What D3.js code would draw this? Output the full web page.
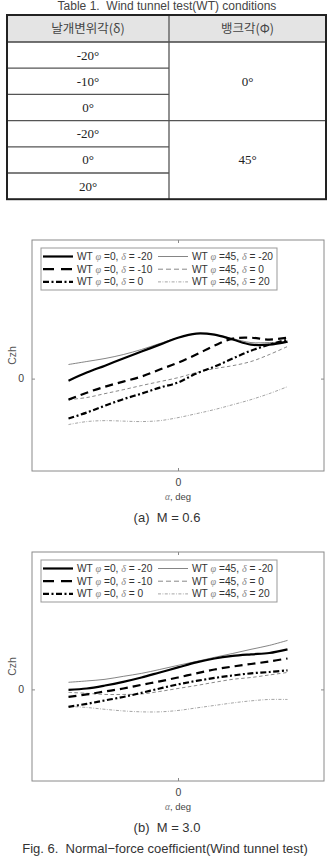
<!DOCTYPE html>
<html>
<head>
<meta charset="utf-8">
<script src="https://cdn.jsdelivr.net/npm/d3@7"></script>
<style>
  body { margin: 0; background: #fff; }
  svg { display: block; }
  text { white-space: pre; }
</style>
</head>
<body>
<div id="chart"></div>
<script>
(function() {

  // table rows
  var deflectAngles = ["-20°", "-10°", "0°", "-20°", "0°", "20°"];
  var bankGroups = [{label: "0°", rows: 3}, {label: "45°", rows: 3}];
  var tableHeaders = ["날개변위각(δ)", "뱅크각(Φ)"];

  // angle of attack samples (deg)
  var alpha = [-15, -12.5, -10, -7.5, -5, -2.5, 0, 2.5, 5, 7.5, 10, 12.5, 15];
  var xTicks = [0];
  var yTicks = [0];

  // series names for the legend
  var seriesNames = [
    ["WT ", "φ", " =0, ", "δ", " = -20"],
    ["WT ", "φ", " =0, ", "δ", " = -10"],
    ["WT ", "φ", " =0, ", "δ", " = 0"],
    ["WT ", "φ", " =45, ", "δ", " = -20"],
    ["WT ", "φ", " =45, ", "δ", " = 0"],
    ["WT ", "φ", " =45, ", "δ", " = 20"]
  ];

  // M = 0.6
  var m06_p0_dm20 = [-0.09, 0.26, 0.56, 0.87, 1.17, 1.47, 1.77, 1.95, 1.90, 1.69, 1.47, 1.47, 1.60];
  var m06_p0_dm10 = [-0.91, -0.61, -0.35, -0.13, 0.09, 0.39, 0.69, 1.04, 1.43, 1.73, 1.77, 1.69, 1.77];
  var m06_p0_d0   = [-1.73, -1.47, -1.17, -0.89, -0.65, -0.39, -0.17, 0.22, 0.52, 0.87, 1.21, 1.47, 1.69];
  var m06_p45_dm20 = [0.61, 0.74, 0.87, 1.04, 1.26, 1.52, 1.77, 1.95, 1.90, 1.73, 1.56, 1.56, 1.56];
  var m06_p45_d0   = [-0.91, -0.82, -0.65, -0.48, -0.30, -0.13, 0.04, 0.26, 0.43, 0.56, 0.74, 1.04, 1.39];
  var m06_p45_d20  = [-1.99, -1.86, -1.82, -1.84, -1.86, -1.82, -1.69, -1.52, -1.34, -1.13, -0.91, -0.65, -0.35];

  // M = 3.0
  var m30_p0_dm20 = [-0.02, 0.04, 0.17, 0.33, 0.52, 0.74, 0.96, 1.18, 1.35, 1.46, 1.53, 1.59, 1.75];
  var m30_p0_dm10 = [-0.33, -0.22, -0.09, 0.04, 0.20, 0.35, 0.52, 0.70, 0.87, 1.00, 1.11, 1.22, 1.35];
  var m30_p0_d0   = [-0.76, -0.63, -0.48, -0.33, -0.15, 0.04, 0.22, 0.37, 0.50, 0.61, 0.70, 0.76, 0.83];
  var m30_p45_dm20 = [0.31, 0.37, 0.44, 0.57, 0.70, 0.87, 1.05, 1.22, 1.40, 1.57, 1.75, 1.92, 2.14];
  var m30_p45_d0   = [-0.13, -0.17, -0.22, -0.22, -0.20, -0.09, 0.04, 0.17, 0.31, 0.44, 0.52, 0.63, 0.74];
  var m30_p45_d20  = [-0.74, -0.79, -0.87, -0.94, -0.98, -0.98, -0.92, -0.81, -0.70, -0.59, -0.50, -0.44, -0.44];

  var width = 329, height = 857;

  // line styles, same order as seriesNames
  var styles = [
    {w: 2.2, c: "#000", dash: null, legDash: null},
    {w: 2.2, c: "#000", dash: "8,5", legDash: "11,7"},
    {w: 2.2, c: "#000", dash: "6,2.5,2,2.5", legDash: "6,2.5,2,2.5"},
    {w: 0.8, c: "#666", dash: null, legDash: null},
    {w: 0.7, c: "#555", dash: "3.5,2.5", legDash: "5,3"},
    {w: 0.6, c: "#666", dash: "3,1.5,0.8,1.5", legDash: "3,1.5,0.8,1.5"}
  ];

  var svg = d3.select("#chart")
    .append("svg")
    .attr("width", width)
    .attr("height", height);

  // ---------- table ----------
  function drawTable() {
    var tx0 = 7, tx1 = 326, tmid = 169;
    var top = 15, headH = 27, rowH = 26.2;

    svg.append("text")
      .attr("x", 167).attr("y", 9.5)
      .attr("text-anchor", "middle")
      .style("font-family", "Arial, 'Liberation Sans', sans-serif")
      .style("font-size", "12px")
      .style("fill", "#444")
      .text("Table 1.  Wind tunnel test(WT) conditions");

    svg.append("rect")
      .attr("x", tx0).attr("y", top)
      .attr("width", tx1 - tx0).attr("height", headH)
      .style("fill", "#e4e4e4");

    var bodyTop = top + headH;
    var bottom = bodyTop + rowH * deflectAngles.length;

    // horizontal lines in left column
    for (var i = 1; i < deflectAngles.length; i++) {
      var yy = bodyTop + rowH * i;
      var full = (i === 3);
      svg.append("line")
        .attr("x1", tx0).attr("x2", full ? tx1 : tmid)
        .attr("y1", yy).attr("y2", yy)
        .style("stroke", "#555").style("stroke-width", 1.3);
    }
    svg.append("line")
      .attr("x1", tx0).attr("x2", tx1)
      .attr("y1", bodyTop).attr("y2", bodyTop)
      .style("stroke", "#444").style("stroke-width", 1.5);
    svg.append("line")
      .attr("x1", tmid).attr("x2", tmid)
      .attr("y1", top).attr("y2", bottom)
      .style("stroke", "#555").style("stroke-width", 1.3);
    svg.append("rect")
      .attr("x", tx0).attr("y", top)
      .attr("width", tx1 - tx0).attr("height", bottom - top)
      .style("fill", "none").style("stroke", "#222").style("stroke-width", 2);

    var colX = [(tx0 + tmid) / 2, (tmid + tx1) / 2];
    svg.selectAll(".thead")
      .data(tableHeaders)
      .enter().append("text")
      .attr("x", (d, i) => colX[i])
      .attr("y", top + headH / 2 + 4.5)
      .attr("text-anchor", "middle")
      .style("font-family", "'Noto Sans CJK KR', sans-serif")
      .style("font-size", "12.5px")
      .style("fill", "#444")
      .text(d => d);

    svg.selectAll(".tcell")
      .data(deflectAngles)
      .enter().append("text")
      .attr("x", colX[0])
      .attr("y", (d, i) => bodyTop + rowH * i + rowH / 2 + 4.5)
      .attr("text-anchor", "middle")
      .style("font-family", "'Liberation Serif', 'Times New Roman', serif")
      .style("font-size", "13px")
      .style("fill", "#222")
      .text(d => d);

    var acc = 0;
    bankGroups.forEach(function(g) {
      var cy = bodyTop + rowH * (acc + g.rows / 2);
      svg.append("text")
        .attr("x", colX[1]).attr("y", cy + 4.5)
        .attr("text-anchor", "middle")
        .style("font-family", "'Liberation Serif', 'Times New Roman', serif")
        .style("font-size", "13px")
        .style("fill", "#222")
        .text(g.label);
      acc += g.rows;
    });
  }

  // ---------- one Czh plot ----------
  function drawPlot(top, bottom, seriesList, caption) {
    var left = 32, right = 324;

    var xScale = d3.scaleLinear().domain([-20, 20]).range([left, right]);
    var yScale = d3.scaleLinear().domain([-4, 6]).range([bottom, top]);

    var g = svg.append("g");

    var line = d3.line()
      .x((d, i) => xScale(alpha[i]))
      .y(d => yScale(d))
      .curve(d3.curveCatmullRom);

    // thin ones first so the thick ones sit on top
    var order = [3, 4, 5, 0, 1, 2];
    order.forEach(function(k) {
      g.append("path")
        .datum(seriesList[k])
        .attr("d", line)
        .style("fill", "none")
        .style("stroke", styles[k].c)
        .style("stroke-width", styles[k].w)
        .style("stroke-dasharray", styles[k].dash);
    });

    // frame
    g.append("rect")
      .attr("x", left).attr("y", top)
      .attr("width", right - left).attr("height", bottom - top)
      .style("fill", "none").style("stroke", "#8a8a8a").style("stroke-width", 1);

    // axes with inside ticks, matlab style
    var xAxis = g.append("g")
      .attr("transform", "translate(0," + bottom + ")")
      .call(d3.axisBottom(xScale).tickValues(xTicks).tickSizeInner(-3).tickSizeOuter(0).tickPadding(8));
    var xTop = g.append("g")
      .attr("transform", "translate(0," + top + ")")
      .call(d3.axisTop(xScale).tickValues(xTicks).tickSizeInner(-3).tickSizeOuter(0).tickFormat(""));
    var yAxis = g.append("g")
      .attr("transform", "translate(" + left + ",0)")
      .call(d3.axisLeft(yScale).tickValues(yTicks).tickSizeInner(-3).tickSizeOuter(0).tickPadding(8));
    var yRight = g.append("g")
      .attr("transform", "translate(" + right + ",0)")
      .call(d3.axisRight(yScale).tickValues(yTicks).tickSizeInner(-3).tickSizeOuter(0).tickFormat(""));

    [xAxis, xTop, yAxis, yRight].forEach(function(a) {
      a.select(".domain").remove();
      a.selectAll("line").style("stroke", "#8a8a8a");
      a.selectAll("text")
        .style("font-family", "Arial, 'Liberation Sans', sans-serif")
        .style("font-size", "10.5px")
        .style("fill", "#444");
    });

    // axis labels
    var xl = g.append("text")
      .attr("x", xScale(0)).attr("y", bottom + 29)
      .attr("text-anchor", "middle")
      .style("font-family", "Arial, 'Liberation Sans', sans-serif")
      .style("font-size", "9.5px")
      .style("fill", "#444");
    xl.append("tspan").text("α")
      .style("font-family", "'Liberation Serif', serif").style("font-style", "italic").style("fill", "#777");
    xl.append("tspan").text(", deg");

    g.append("text")
      .attr("transform", "translate(16," + ((top + bottom) / 2) + ") rotate(-90)")
      .attr("text-anchor", "middle")
      .style("font-family", "Arial, 'Liberation Sans', sans-serif")
      .style("font-size", "10.5px")
      .style("fill", "#555")
      .text("Czh");

    // legend
    var lx = 41, ly = top + 8, lw = 236, lh = 42;
    g.append("rect")
      .attr("x", lx).attr("y", ly).attr("width", lw).attr("height", lh)
      .style("fill", "#fff").style("stroke", "#999").style("stroke-width", 1);

    seriesNames.forEach(function(parts, k) {
      var col = Math.floor(k / 3), row = k % 3;
      var x0 = col === 0 ? 43 : 158;
      var yy = ly + 8.5 + row * 12.7;
      g.append("line")
        .attr("x1", x0).attr("x2", x0 + 30)
        .attr("y1", yy).attr("y2", yy)
        .style("stroke", styles[k].c)
        .style("stroke-width", styles[k].w)
        .style("stroke-dasharray", styles[k].legDash);
      var t = g.append("text")
        .attr("x", x0 + 34).attr("y", yy + 3.5)
        .style("font-family", "Arial, 'Liberation Sans', sans-serif")
        .style("font-size", "10.2px")
        .style("fill", "#333");
      parts.forEach(function(p, j) {
        var sp = t.append("tspan").text(p);
        if (j === 1 || j === 3) {
          sp.style("font-family", "'Liberation Serif', serif")
            .style("font-style", "italic")
            .style("fill", "#888");
        }
      });
    });

    svg.append("text")
      .attr("x", 167).attr("y", bottom + 51)
      .attr("text-anchor", "middle")
      .style("font-family", "Arial, 'Liberation Sans', sans-serif")
      .style("font-size", "13px")
      .style("fill", "#333")
      .text(caption);
  }

  drawTable();

  drawPlot(240, 471,
    [m06_p0_dm20, m06_p0_dm10, m06_p0_d0, m06_p45_dm20, m06_p45_d0, m06_p45_d20],
    "(a)  M = 0.6");

  drawPlot(552, 781,
    [m30_p0_dm20, m30_p0_dm10, m30_p0_d0, m30_p45_dm20, m30_p45_d0, m30_p45_d20],
    "(b)  M = 3.0");

  svg.append("text")
    .attr("x", 165).attr("y", 853)
    .attr("text-anchor", "middle")
    .style("font-family", "Arial, 'Liberation Sans', sans-serif")
    .style("font-size", "13px")
    .style("fill", "#333")
    .text("Fig. 6.  Normal−force coefficient(Wind tunnel test)");

})();
</script>
</body>
</html>
